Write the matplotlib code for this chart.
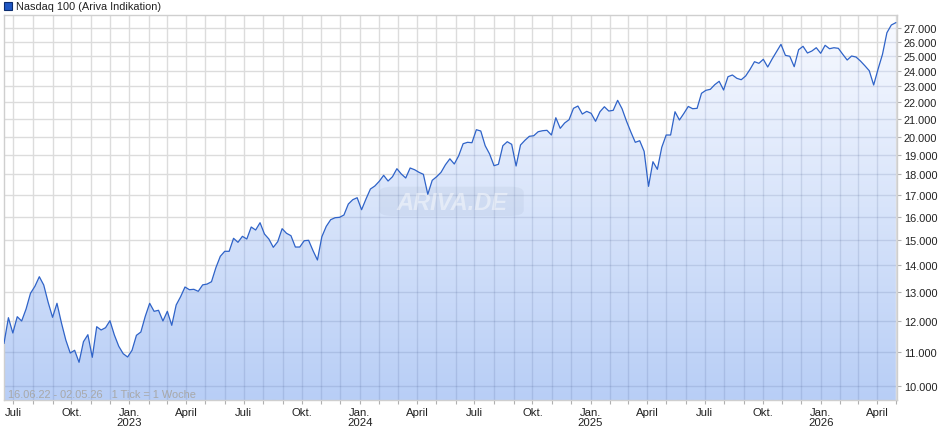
import datetime as dt
import numpy as np
import matplotlib
matplotlib.use("Agg")
import matplotlib.pyplot as plt
import matplotlib.dates as mdates
from matplotlib.ticker import FixedLocator, FuncFormatter, NullLocator
from matplotlib.patches import Rectangle, FancyBboxPatch

plt.rcParams['font.family'] = ['Liberation Sans', 'DejaVu Sans']

# ---------------- data ----------------
title = "Nasdaq 100 (Ariva Indikation)"
range_note = "16.06.22 - 02.05.26   1 Tick = 1 Woche"
watermark = "ARIVA.DE"
start_date = "2022-06-16"
end_date = "2026-05-02"

values = [
    11267, 12097, 11594, 12130, 11987, 12392, 12944, 13198, 13554, 13245,
    12625, 12110, 12590, 11930, 11371, 10968, 11051, 10689, 11318, 11539,
    10838, 11798, 11691, 11766, 11996, 11530, 11174, 10947, 10847, 11051,
    11520, 11626, 12144, 12590, 12313, 12348, 11987, 12313, 11844, 12531,
    12822, 13172, 13074, 13088, 13016, 13250, 13280, 13367, 13900, 14344,
    14544, 14544, 15078, 14912, 15162, 15049, 15558, 15429, 15745, 15259,
    15049, 14706, 14936, 15486, 15289, 15188, 14718, 14718, 14978, 14995,
    14569, 14197, 15145, 15588, 15877, 15965, 15982, 16085, 16583, 16783,
    16876, 16324, 16816, 17288, 17433, 17662, 17958, 17676, 17888, 18291,
    18023, 17825, 18326, 18240, 18109, 18008, 17036, 17710, 17888, 18109,
    18494, 18800, 18530, 18962, 19603, 19680, 19658, 20381, 20307, 19495,
    19052, 18443, 18516, 19495, 19713, 19571, 18428, 19534, 19790, 20011,
    20043, 20267, 20324, 20346, 20083, 21070, 20460, 20764, 20954, 21626,
    21765, 21287, 21446, 21328, 20862, 21422, 21722, 21464, 21506, 22112,
    21603, 20878, 20251, 19680, 19768, 19195, 17417, 18649, 18260, 19410,
    20083, 20083, 21422, 20937, 21320, 21740, 21603, 21626, 22547, 22735,
    22798, 23092, 23310, 22754, 23609, 23722, 23505, 23413, 23656, 24099,
    24613, 24503, 24777, 24254, 24799, 25305, 25829, 25053, 24985, 24274,
    25447, 25687, 25214, 25355, 25587, 25194, 25759, 25516, 25587, 25544,
    25124, 24729, 25005, 24935, 24662, 24342, 24006, 23072, 24118, 25124,
    26674, 27251, 27426,
]
y_ticks = list(range(10000, 28000, 1000))
month_names = {1: "Jan.", 4: "April", 7: "Juli", 10: "Okt."}

dates = [dt.date(2022, 6, 16) + dt.timedelta(days=7 * i) for i in range(len(values))]

# ---------------- figure ----------------
W, H = 940, 435
fig = plt.figure(figsize=(W / 100, H / 100), dpi=100)
L, R, T, B = 4, 897, 16, 401
ax = fig.add_axes([L / W, 1 - B / H, (R - L) / W, (B - T) / H])

ax.set_yscale('log')
xmin = mdates.date2num(dt.date.fromisoformat(start_date))
xmax = mdates.date2num(dt.date.fromisoformat(end_date))
ax.set_xlim(xmin, xmax)
ax.set_ylim(9627, 28019)
ax.set_autoscale_on(False)

month_ticks = []
d = dt.date(2022, 7, 1)
while d <= dt.date(2026, 5, 2):
    month_ticks.append(mdates.date2num(d))
    d = dt.date(d.year + (d.month == 12), d.month % 12 + 1, 1)

# base grey grid
ax.set_axisbelow(True)
ax.grid(True, which='major', color='#dcdcdc', lw=1.0, zorder=0)

xnum = mdates.date2num(dates)
pc = ax.fill_between(xnum, values, 9000, facecolor='none', edgecolor='none', zorder=1)
clip_path = pc.get_paths()[0]

# gradient fill
top_c = np.array([248, 250, 255]) / 255
bot_c = np.array([184, 206, 246]) / 255
t = np.linspace(0, 1, 256)[:, None]
grad = (top_c[None, :] * (1 - t) + bot_c[None, :] * t)[:, None, :]
im = ax.imshow(grad, extent=[0, 1, 0, 1], transform=ax.transAxes,
               aspect='auto', origin='upper', zorder=1, interpolation='bilinear')
im.set_clip_path(clip_path, ax.transData)

# bluish grid inside filled area
vl = ax.vlines(month_ticks, 9000, 30000, colors=[(0.16, 0.24, 0.45, 0.13)], lw=1.0, zorder=2)
vl.set_clip_path(clip_path, ax.transData)
hl = ax.hlines(y_ticks, xmin, xmax, colors=[(0.16, 0.24, 0.45, 0.13)], lw=1.0, zorder=2)
hl.set_clip_path(clip_path, ax.transData)

# line
ax.plot(xnum, values, color='#2f63c8', lw=0.9, zorder=4, solid_joinstyle='round')

for s in ax.spines.values():
    s.set_color('#cfcfcf')
    s.set_linewidth(1.0)

ax.yaxis.tick_right()
ax.yaxis.set_major_locator(FixedLocator(y_ticks))
ax.yaxis.set_minor_locator(NullLocator())
ax.yaxis.set_major_formatter(FuncFormatter(lambda v, p: f"{v:,.0f}".replace(",", ".")))

def xfmt(v, p):
    dd = mdates.num2date(v)
    if dd.month in month_names:
        lab = month_names[dd.month]
        if dd.month == 1:
            lab += f"\n{dd.year}"
        return lab
    return ""

ax.xaxis.set_major_locator(FixedLocator(month_ticks))
ax.xaxis.set_major_formatter(FuncFormatter(xfmt))
ax.xaxis.set_minor_locator(NullLocator())
ax.tick_params(axis='both', length=3, width=0.8, color='#b0b0b0',
               labelsize=8.2, labelcolor='#222222', pad=2)
ax.tick_params(axis='y', labelsize=7.9, pad=2)
for lab in ax.get_xticklabels():
    lab.set_linespacing(1.05)

# watermark
ax.add_patch(FancyBboxPatch((0.420, 0.478), 0.162, 0.076,
                            boxstyle="round,pad=0.0,rounding_size=0.015",
                            transform=ax.transAxes, facecolor=(0.45, 0.52, 0.65, 0.09),
                            edgecolor='none', zorder=3))
ax.text(0.502, 0.514, watermark, transform=ax.transAxes, ha='center', va='center',
        fontsize=17, fontweight='bold', fontstyle='italic', color=(1, 1, 1, 0.45), zorder=3)

# range note
ax.text(4 / (R - L), 0.003, range_note, transform=ax.transAxes, ha='left', va='bottom',
        fontsize=7.9, color='#a8a8a8', zorder=5)

# legend
fig.add_artist(Rectangle((4 / W, 1 - 11 / H), 8 / W, 8 / H, transform=fig.transFigure,
                         facecolor='#1f57c3', edgecolor='#0b2c6e', lw=0.8))
fig.text(16 / W, 1 - 7 / H, title, ha='left', va='center', fontsize=7.9, color='#222222')

fig.savefig('out.png', dpi=100)
